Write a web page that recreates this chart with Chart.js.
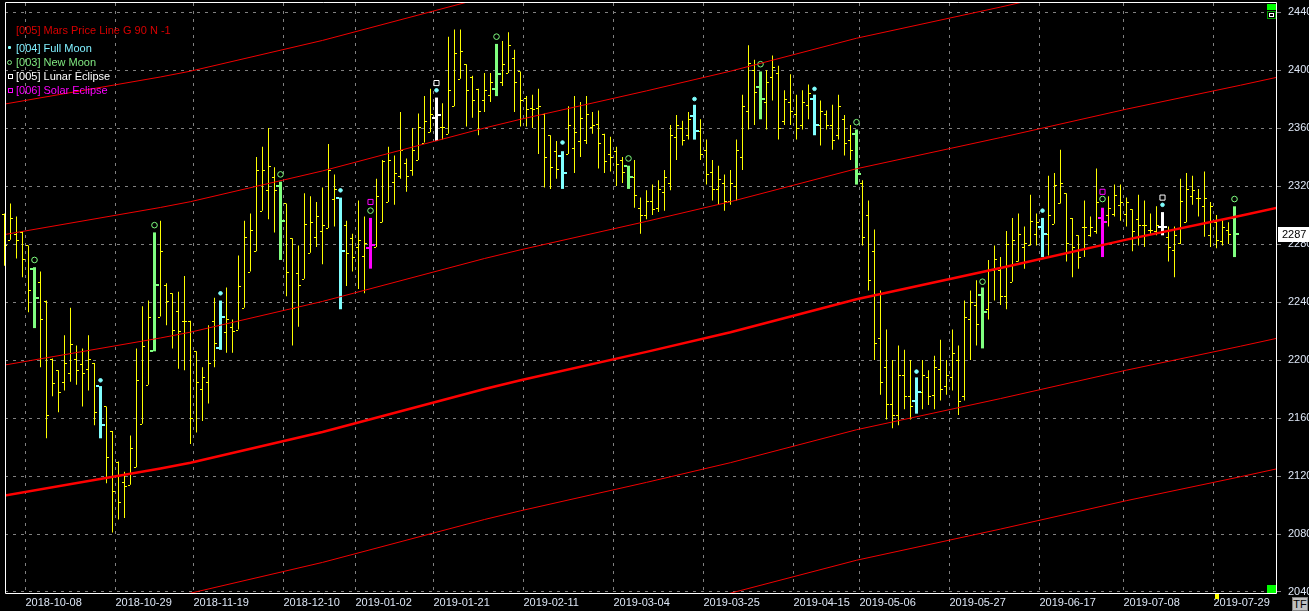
<!DOCTYPE html>
<html>
<head>
<meta charset="utf-8">
<title>Mars Price Line G 90</title>
<script src="https://cdn.jsdelivr.net/npm/chart.js@4.4.1/dist/chart.umd.min.js"></script>
<style>
  body { margin: 0; background: #000; }
  #wrap { position: relative; width: 1309px; height: 611px; overflow: hidden; background: #000;
          font-family: "Liberation Sans", Arial, sans-serif; }
  #grafico { position: absolute; left: 0; top: 0; }
  .ley { position: absolute; left: 16px; font-size: 11px; line-height: 13px; white-space: nowrap; }
  .mk { position: absolute; box-sizing: border-box; }
  #tf { position: absolute; left: 1292px; top: 597px; width: 16px; height: 14px; box-sizing: border-box;
        background: #c0c0c0; border: 1px solid #808080; color: #000; font-size: 11px; line-height: 12px; text-align: center; }
</style>
</head>
<body>
<div id="wrap">
  <canvas id="grafico" width="1309" height="611"></canvas>
  <div class="ley" style="top:24px;color:#d80000">[005] Mars Price Line G 90 N -1</div>
  <div class="mk" style="left:8px;top:46px;width:3px;height:3px;background:#80ffff;border-radius:1px"></div>
  <div class="ley" style="top:42px;color:#80f0ff">[004] Full Moon</div>
  <div class="mk" style="left:7px;top:60px;width:5px;height:5px;border:1px solid #80e880;border-radius:50%"></div>
  <div class="ley" style="top:56px;color:#80e880">[003] New Moon</div>
  <div class="mk" style="left:8px;top:74px;width:5px;height:5px;border:1px solid #ffffff"></div>
  <div class="ley" style="top:70px;color:#ffffff">[005] Lunar Eclipse</div>
  <div class="mk" style="left:8px;top:88px;width:5px;height:5px;border:1px solid #ff00ff"></div>
  <div class="ley" style="top:84px;color:#ff00ff">[006] Solar Eclipse</div>
  <div class="mk" style="left:1267px;top:4px;width:9px;height:6px;background:#00ff00"></div>
  <div class="mk" style="left:1267px;top:11px;width:9px;height:8px;border:1px solid #00a000;background:#000"></div>
  <div class="mk" style="left:1269px;top:13px;width:5px;height:4px;border:1px solid #ffffff"></div>
  <div class="mk" style="left:1267px;top:585px;width:9px;height:8px;background:#00ff00"></div>
  <div class="mk" style="left:1215px;top:594px;width:4px;height:5px;background:#ffff00"></div>
  <div id="tf">TF</div>
</div>
<script>
// Barras diarias (OHLC)
const opens = [
  2301,2283,2287,2288,2279,2263,2254,2241,2201,2193, 2185,2191,2201,2197,2194,2198,2182,2168,2151,2130,
  2116,2114,2126,2156,2183,2206,2230,2252,2246,2234, 2227,2227,2206,2180,2185,2227,2208,2219,2223,2221,
  2236,2261,2275,2303,2317,2326,2320,2308,2284,2260, 2256,2274,2285,2289,2291,2311,2312,2293,2284,2278,
  2272,2277,2278,2295,2309,2323,2327,2336,2331,2338, 2350,2357,2367,2361,2356,2375,2394,2404,2395,2387,
  2379,2383,2387,2392,2398,2408,2399,2381,2374,2374, 2370,2355,2344,2341,2342,2346,2351,2352,2361,2363,
  2356,2342,2344,2338,2334,2326,2305,2300,2310,2305, 2316,2322,2354,2360,2355,2368,2358,2345,2330,2318,
  2322,2310,2320,2340,2372,2400,2388,2378,2395,2398, 2365,2378,2370,2362,2376,2380,2362,2370,2362,2355,
  2366,2352,2356,2322,2300,2275,2215,2195,2170,2162, 2190,2175,2172,2178,2188,2176,2194,2182,2188,2200,
  2175,2228,2238,2245,2235,2262,2262,2244,2254,2268, 2278,2279,2287,2292,2287,2294,2308,2315,2298,2286,
  2292,2286,2289,2298,2300,2301,2307,2301,2304,2297, 2293,2290,2289,2292,2285,2276,2281,2295,2313,2312,
  2306,2286,2295,2282,2290,2298
];
const highs = [
  2301,2308,2299,2289,2279,2264,2261,2241,2201,2193, 2217,2236,2210,2208,2217,2198,2182,2168,2151,2130,
  2123,2148,2208,2237,2241,2288,2296,2253,2246,2247, 2258,2227,2206,2195,2224,2243,2241,2250,2228,2272,
  2296,2301,2340,2347,2360,2333,2323,2308,2284,2279, 2315,2313,2309,2319,2349,2328,2312,2296,2287,2310,
  2299,2298,2325,2338,2347,2341,2371,2339,2360,2370, 2382,2387,2381,2377,2423,2428,2428,2404,2396,2387,
  2398,2398,2418,2420,2426,2414,2399,2382,2383,2387, 2370,2355,2351,2344,2375,2382,2378,2382,2371,2372,
  2356,2354,2347,2340,2334,2338,2312,2317,2321,2324, 2331,2362,2369,2365,2371,2376,2366,2352,2338,2334,
  2328,2331,2352,2383,2417,2407,2399,2400,2410,2403, 2386,2397,2383,2386,2390,2383,2379,2372,2376,2383,
  2369,2362,2359,2324,2310,2290,2248,2221,2200,2210, 2207,2200,2188,2200,2193,2203,2214,2200,2221,2210,
  2241,2248,2255,2250,2269,2279,2271,2289,2298,2301, 2292,2314,2301,2298,2327,2329,2345,2315,2298,2286,
  2310,2299,2332,2305,2313,2321,2321,2312,2304,2314, 2310,2301,2306,2302,2292,2292,2325,2329,2327,2318,
  2330,2309,2300,2297,2295,2306
];
const lows = [
  2265,2283,2270,2257,2233,2222,2195,2146,2175,2164, 2179,2185,2183,2168,2179,2155,2146,2115,2081,2090,
  2091,2114,2126,2156,2183,2206,2230,2224,2208,2194, 2193,2142,2150,2158,2170,2195,2207,2205,2205,2221,
  2236,2261,2275,2303,2297,2288,2269,2244,2210,2223, 2256,2274,2278,2266,2291,2292,2235,2251,2261,2249,
  2246,2263,2278,2295,2309,2307,2325,2316,2327,2338, 2350,2357,2351,2352,2356,2375,2394,2361,2367,2355,
  2371,2378,2382,2389,2398,2371,2361,2361,2360,2342, 2319,2318,2325,2318,2342,2329,2340,2349,2356,2332,
  2329,2330,2320,2322,2318,2305,2287,2297,2300,2302, 2303,2317,2338,2348,2352,2352,2338,2321,2310,2307,
  2303,2307,2310,2331,2359,2362,2366,2359,2379,2352, 2362,2362,2352,2359,2366,2355,2348,2359,2345,2352,
  2341,2338,2321,2279,2248,2200,2176,2159,2153,2155, 2166,2159,2163,2166,2169,2166,2172,2176,2179,2162,
  2172,2200,2210,2208,2228,2241,2238,2235,2254,2268, 2263,2279,2279,2271,2272,2294,2308,2268,2257,2263,
  2271,2285,2287,2271,2292,2299,2296,2292,2275,2279, 2278,2287,2286,2286,2268,2257,2280,2295,2307,2299,
  2285,2278,2277,2279,2280,2271
];
const closes = [
  2279,2298,2283,2270,2248,2243,2228,2162,2184,2178, 2198,2211,2193,2191,2201,2164,2155,2133,2110,2102,
  2113,2139,2186,2210,2230,2252,2275,2241,2221,2220, 2227,2160,2185,2188,2198,2212,2230,2228,2220,2251,
  2285,2290,2331,2331,2334,2317,2296,2261,2236,2252, 2294,2295,2299,2293,2331,2318,2275,2274,2271,2283,
  2281,2279,2313,2337,2338,2329,2345,2327,2345,2361, 2365,2370,2369,2361,2386,2412,2413,2386,2379,2372,
  2386,2392,2397,2404,2417,2392,2379,2373,2373,2375, 2340,2333,2332,2329,2362,2357,2367,2370,2362,2350,
  2337,2340,2335,2330,2326,2314,2300,2310,2304,2318, 2326,2355,2362,2352,2366,2358,2342,2328,2318,2325,
  2310,2322,2345,2375,2405,2385,2380,2392,2402,2360, 2380,2372,2360,2378,2384,2362,2372,2362,2352,2375,
  2350,2345,2328,2285,2255,2212,2185,2170,2162,2190, 2175,2168,2178,2190,2175,2195,2180,2190,2205,2172,
  2230,2240,2225,2233,2262,2270,2244,2280,2283,2287, 2281,2296,2295,2287,2300,2321,2322,2281,2278,2271,
  2292,2292,2309,2295,2305,2314,2309,2309,2289,2293, 2293,2290,2293,2292,2278,2286,2310,2318,2317,2312,
  2312,2306,2283,2292,2287,2287
];

// Etiquetas del eje X (fecha y barra donde empieza)
const tickLabels = ['2018-10-08','2018-10-29','2018-11-19','2018-12-10','2019-01-02','2019-01-21','2019-02-11',
  '2019-03-04','2019-03-25','2019-04-15','2019-05-06','2019-05-27','2019-06-17','2019-07-08','2019-07-29'];
const tickBars = [4, 19, 32, 47, 59, 72, 87, 102, 117, 132, 143, 158, 173, 187, 202];
const yTicks = [2040, 2080, 2120, 2160, 2200, 2240, 2280, 2320, 2360, 2400, 2440];

// Eventos lunares: barra y precio del marcador
const fullMoonBars = [16, 36, 56, 72, 93, 115, 135, 152, 173, 193];
const fullMoonY = [2186, 2246, 2317, 2386, 2350, 2380, 2387, 2192, 2303, 2307];
const newMoonBars = [5, 25, 46, 61, 82, 104, 126, 142, 163, 183, 205];
const newMoonY = [2269, 2293, 2328, 2303, 2423, 2339, 2404, 2364, 2254, 2311, 2311];
const lunarBars = [72, 193];
const lunarY = [2391, 2312];
const solarBars = [61, 183];
const solarY = [2309, 2316];

// Linea de precio de Marte (barra, precio) y sus paralelas cada 90
const marsBar = [0, 26, 31, 53, 80, 86, 107, 121, 142, 166, 187, 206, 212];
const marsPrice = [2106.5, 2125.2, 2129.2, 2150.4, 2180.0, 2186.0, 2205.6, 2219.2, 2241.9, 2263.4, 2283.0, 2299.5, 2304.9];
const marsOffsets = [-180, -90, 0, 90, 180, 270];

const colores = {
  bar: '#ffff00', fullMoon: '#80ffff', newMoon: '#80ff80', lunar: '#ffffff', solar: '#ff00ff',
  mars: '#ff0000', marsThin: '#f00000', grid: '#808080', text: '#dde6f5'
};

function colorBarra(i) {
  if (solarBars.includes(i)) return colores.solar;
  if (lunarBars.includes(i)) return colores.lunar;
  if (newMoonBars.includes(i)) return colores.newMoon;
  if (fullMoonBars.includes(i)) return colores.fullMoon;
  return colores.bar;
}
function esEvento(i) {
  return colorBarra(i) !== colores.bar;
}

const indices = opens.map((_, i) => i);
const normales = indices.filter(i => !esEvento(i));
const eventos = indices.filter(esEvento);

// Ticks de apertura (izquierda) y cierre (derecha)
function dibujarTicks(chart, lista, grueso) {
  const ctx = chart.ctx;
  const xs = chart.scales.x, ys = chart.scales.y;
  const a = chart.chartArea;
  ctx.save();
  ctx.beginPath();
  ctx.rect(a.left - 4, a.top, a.right - a.left + 4, a.bottom - a.top);
  ctx.clip();
  lista.forEach(i => {
    const px = Math.floor(xs.getPixelForValue(i));
    const yo = Math.round(ys.getPixelForValue(opens[i]));
    const yc = Math.round(ys.getPixelForValue(closes[i]));
    ctx.fillStyle = colorBarra(i);
    if (grueso) {
      ctx.fillRect(px - 4, yo - 1, 3, 2);
      ctx.fillRect(px + 2, yc - 1, 3, 2);
    } else {
      ctx.fillRect(px - 2, yo, 2, 1);
      ctx.fillRect(px + 1, yc, 2, 1);
    }
  });
  ctx.restore();
}

const ticksOHLC = {
  id: 'ticksOHLC',
  afterDatasetDraw(chart, args) {
    const label = chart.data.datasets[args.index].label;
    if (label === 'HL') dibujarTicks(chart, normales, false);
    if (label === 'HL eventos') dibujarTicks(chart, eventos, true);
  }
};

// Marco blanco y precio actual
const marco = {
  id: 'marco',
  afterDraw(chart) {
    const ctx = chart.ctx;
    const a = chart.chartArea;
    ctx.save();
    ctx.strokeStyle = '#ffffff';
    ctx.lineWidth = 1;
    ctx.beginPath();
    ctx.moveTo(a.left + 0.5, a.top - 0.5);
    ctx.lineTo(a.right + 0.5, a.top - 0.5);
    ctx.moveTo(a.left + 0.5, a.top - 0.5);
    ctx.lineTo(a.left + 0.5, a.bottom + 0.5);
    ctx.moveTo(a.right + 0.5, a.top - 0.5);
    ctx.lineTo(a.right + 0.5, a.bottom + 0.5);
    ctx.moveTo(a.left + 0.5, a.bottom + 0.5);
    ctx.lineTo(a.right + 0.5, a.bottom + 0.5);
    ctx.stroke();

    const ultimo = closes[closes.length - 1];
    const py = Math.round(chart.scales.y.getPixelForValue(ultimo));
    ctx.fillStyle = '#ffffff';
    ctx.fillRect(a.right + 2, py - 7, 32, 15);
    ctx.fillStyle = '#000000';
    ctx.font = '11px "Liberation Sans", Arial, sans-serif';
    ctx.textBaseline = 'middle';
    ctx.fillText(String(ultimo), a.right + 6, py + 1);
    ctx.restore();
  }
};

function lineasMarte() {
  return marsOffsets.map(off => ({
    type: 'line',
    label: 'Mars ' + off,
    data: marsBar.map((b, k) => ({ x: b, y: marsPrice[k] + off })),
    borderColor: off === 0 ? colores.mars : colores.marsThin,
    borderWidth: off === 0 ? 2.5 : 1,
    pointRadius: 0,
    tension: 0,
    order: 0
  }));
}

function marcador(barras, valores, estilo, radio, relleno, borde) {
  return {
    type: 'scatter',
    label: 'marcador',
    data: barras.map((b, k) => ({ x: b, y: valores[k] })),
    pointStyle: estilo,
    pointRadius: radio,
    pointBackgroundColor: relleno,
    pointBorderColor: borde,
    pointBorderWidth: 1,
    order: 1
  };
}

function inicializarGrafico() {
  Chart.defaults.font.family = '"Liberation Sans", Arial, sans-serif';
  Chart.defaults.font.size = 11;
  const ctx = document.getElementById('grafico').getContext('2d');
  new Chart(ctx, {
    type: 'bar',
    data: {
      datasets: [
        {
          label: 'HL',
          data: normales.map(i => ({ x: i, y: [lows[i], highs[i]] })),
          backgroundColor: colores.bar,
          barThickness: 1,
          grouped: false,
          inflateAmount: 0,
          borderWidth: 0,
          clip: { left: 4, top: 0, right: 0, bottom: 0 },
          order: 3
        },
        {
          label: 'HL eventos',
          data: eventos.map(i => ({ x: i, y: [lows[i], highs[i]] })),
          backgroundColor: eventos.map(colorBarra),
          barThickness: 3,
          grouped: false,
          inflateAmount: 0,
          borderWidth: 0,
          order: 2
        },
        marcador(fullMoonBars, fullMoonY, 'circle', 1.8, colores.fullMoon, colores.fullMoon),
        marcador(newMoonBars, newMoonY, 'circle', 2.8, 'rgba(0,0,0,0)', colores.newMoon),
        marcador(lunarBars, lunarY, 'rect', 3.6, 'rgba(0,0,0,0)', colores.lunar),
        marcador(solarBars, solarY, 'rect', 3.6, 'rgba(0,0,0,0)', colores.solar),
        ...lineasMarte()
      ]
    },
    options: {
      responsive: false,
      devicePixelRatio: 1,
      animation: false,
      events: [],
      layout: { autoPadding: false, padding: { left: 5, top: 3, right: 0, bottom: 0 } },
      plugins: { legend: { display: false }, tooltip: { enabled: false } },
      scales: {
        x: {
          type: 'linear',
          min: 1 / 12,
          max: 211.917,
          bounds: 'data',
          offset: false,
          afterBuildTicks: s => { s.ticks = tickBars.map(b => ({ value: b - 0.5 })); },
          afterFit: s => { s.height = 18; s.paddingLeft = 0; s.paddingRight = 0; },
          grid: { color: colores.grid, drawTicks: false, offset: false },
          border: { display: false, dash: [3, 5] },
          ticks: {
            color: colores.text,
            padding: 3,
            align: 'start',
            autoSkip: false,
            maxRotation: 0,
            minRotation: 0,
            callback: (v, i) => tickLabels[i]
          }
        },
        y: {
          type: 'linear',
          position: 'right',
          min: 2039.31,
          max: 2446.21,
          bounds: 'data',
          afterBuildTicks: s => { s.ticks = yTicks.map(v => ({ value: v })); },
          afterFit: s => { s.width = 33; s.paddingTop = 0; s.paddingBottom = 0; },
          grid: { color: colores.grid, tickColor: colores.grid, tickLength: 5 },
          border: { display: false, dash: [3, 5] },
          ticks: { color: colores.text, padding: 7, callback: v => String(v) }
        }
      }
    },
    plugins: [ticksOHLC, marco]
  });
}

window.onload = inicializarGrafico;
</script>
</body>
</html>
